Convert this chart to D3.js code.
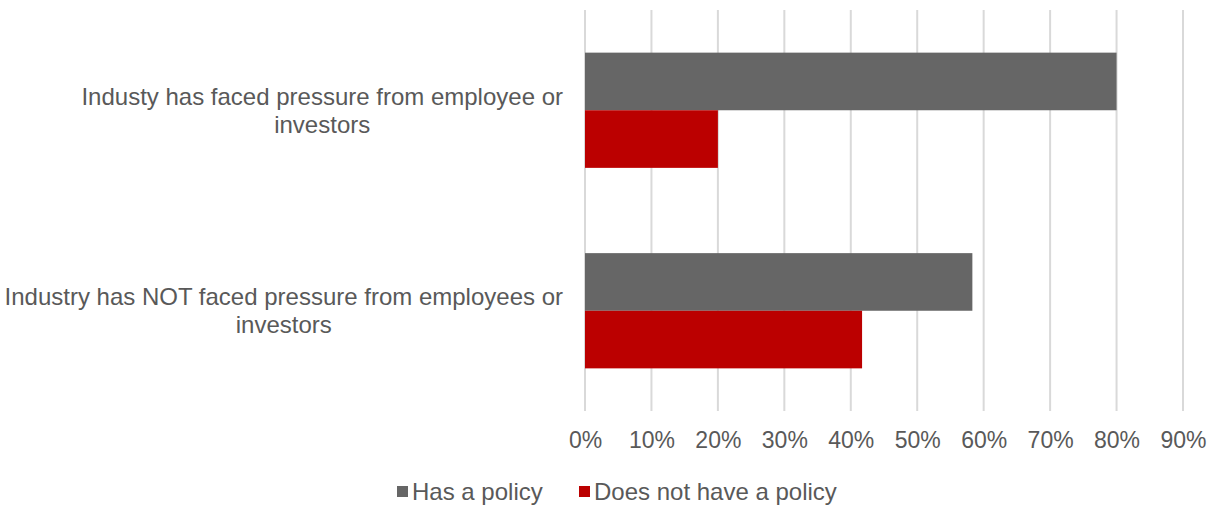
<!DOCTYPE html>
<html>
<head>
<meta charset="utf-8">
<script src="https://cdn.jsdelivr.net/npm/d3@7"></script>
<style>
  body { margin: 0; background: #fff; }
  text { font-family: "Liberation Sans", Arial, sans-serif; fill: #595959; }
</style>
</head>
<body>
<div id="chart"></div>
<script>
// data
var categories = [
  ["Industy has faced pressure from employee or", "investors"],
  ["Industry has NOT faced pressure from employees or", "investors"]
];
var seriesNames = ["Has a policy", "Does not have a policy"];
var hasPolicy = [0.80, 0.583];
var noPolicy = [0.20, 0.417];
var tickValues = [0, 0.1, 0.2, 0.3, 0.4, 0.5, 0.6, 0.7, 0.8, 0.9];
var colors = ["#666666", "#BB0000"];

var W = 1214, H = 506;
var margin = {top: 10, right: 31, bottom: 95, left: 585},
    width = W - margin.left - margin.right,
    height = H - margin.top - margin.bottom;

var svg = d3.select("#chart").append("svg")
    .attr("width", W).attr("height", H);
var g = svg.append("g")
    .attr("transform", "translate(" + margin.left + "," + margin.top + ")");

var x = d3.scaleLinear().domain([0, 0.9]).range([0, width]);
var y = d3.scaleBand().domain(d3.range(categories.length)).range([0, height]).paddingInner(0).paddingOuter(0);
var inner = d3.scaleBand().domain(d3.range(seriesNames.length)).range([0, y.bandwidth()]).paddingInner(0).paddingOuter(0.74);

// gridlines
g.selectAll(".grid").data(tickValues).enter().append("line")
    .attr("x1", d => x(d)).attr("x2", d => x(d))
    .attr("y1", 0).attr("y2", height)
    .attr("stroke", "#d9d9d9").attr("stroke-width", 2);

// x axis labels
var xAxis = d3.axisBottom(x).tickValues(tickValues).tickFormat(d3.format(".0%")).tickSize(0).tickPadding(21);
var ax = g.append("g").attr("transform", "translate(0," + height + ")").call(xAxis);
ax.select(".domain").remove();
ax.selectAll("text").style("font-size", "23px").attr("fill", "#595959").attr("font-family", null);

// bars
var rows = categories.map((c, i) => [hasPolicy[i], noPolicy[i]]);
var grp = g.selectAll(".cat").data(rows).enter().append("g")
    .attr("transform", (d, i) => "translate(0," + y(i) + ")");
grp.selectAll("rect").data(d => d).enter().append("rect")
    .attr("x", 0)
    .attr("y", (d, j) => inner(j))
    .attr("width", d => x(d))
    .attr("height", inner.bandwidth())
    .attr("fill", (d, j) => colors[j]);

// category labels, centred lines with right edge near the axis
var lab = g.selectAll(".cat-label").data(categories).enter().append("text")
    .attr("text-anchor", "middle")
    .style("font-size", "24px");
lab.each(function(lines, i) {
  var t = d3.select(this);
  var cy = y(i) + y.bandwidth() / 2;
  lines.forEach(function(s, k) {
    t.append("tspan").attr("x", 0).attr("y", cy + (k - 0.5) * 28 + 8.5).text(s);
  });
  var w = this.getBBox().width;
  t.selectAll("tspan").attr("x", -22 - w / 2);
});

// legend
var legend = svg.append("g").attr("transform", "translate(0,491)");
var legendX = [397, 579];
seriesNames.forEach(function(name, i) {
  legend.append("rect").attr("x", legendX[i]).attr("y", -5).attr("width", 11).attr("height", 11).attr("fill", colors[i]);
  legend.append("text").attr("x", legendX[i] + 15).attr("y", 8.5).style("font-size", "24px").text(name);
});
</script>
</body>
</html>
